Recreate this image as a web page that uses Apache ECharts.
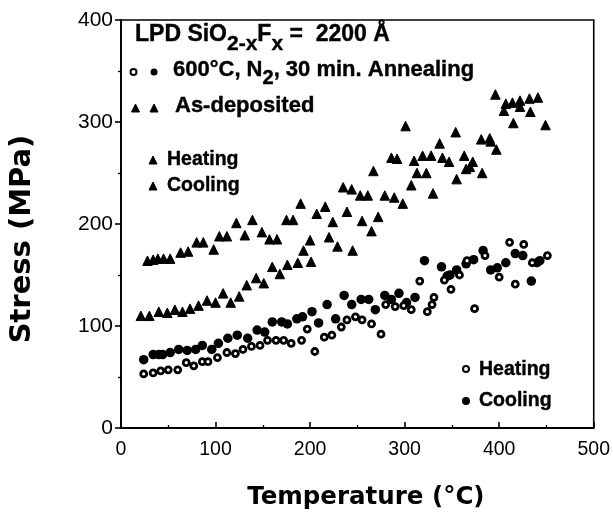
<!DOCTYPE html>
<html><head><meta charset="utf-8">
<script src="https://cdn.jsdelivr.net/npm/echarts@6/dist/echarts.min.js"></script>
<style>html,body{margin:0;padding:0;background:#fff}#c{width:613px;height:515px}</style>
</head><body><div id="c"></div>
<script>
// ---- data (Temperature °C, Stress MPa) ----
const xTicks = [0, 100, 200, 300, 400, 500];
const yTicks = [0, 100, 200, 300, 400];

// As-deposited, heating (lower triangle band)
const asDepHeating = [[21,110],[30,110],[40,114],[49,113],[57,116],[65,114],[73,117],[82,120],[91,125],[100,123],
  [108,132],[116,123],[125,129],[133,140],[143,147],[151,142],[160,158],[168,151],[176,160],[187,162],
  [193,174],[200,184],[201,163],[207,210],[220,187],[224,202],[229,178],[239,212],[245,174],[253,228],
  [255,203],[261,228],[265,193],[272,207],[279,228],[289,226],[298,220],[307,238],[313,250],[323,250],
  [330,230],[340,265],[347,261],[355,244],[363,267],[365,254],[369,256],[372,261],[382,250],[390,284],
  [391,281],[397,273],[449,297]];
// As-deposited, cooling (upper triangle band)
const asDepCooling = [[28,164],[34,165],[39,166],[45,166],[52,166],[63,172],[71,173],[80,182],[87,182],[98,175],
  [104,188],[112,188],[122,201],[131,189],[139,204],[149,192],[157,185],[165,185],[175,204],[182,204],
  [190,220],[216,217],[235,236],[244,234],[267,252],[286,265],[292,264],[301,296],[310,262],[319,267],
  [328,267],[337,279],[354,290],[381,283],[396,327],[405,311],[407,318],[414,319],[415,299],[422,321],
  [422,315],[432,323],[433,310],[441,324]];
// 600°C N2 annealed, heating (open circles)
const annHeating = [[24,53],[34,54],[42,56],[50,57],[60,57],[69,64],[77,61],[86,65],[92,65],[102,69],
  [112,74],[121,73],[129,77],[138,80],[147,81],[155,86],[164,86],[172,86],[180,83],[191,86],
  [197,97],[205,75],[215,89],[223,91],[233,99],[239,106],[248,109],[255,106],[265,102],[275,92],
  [280,121],[290,119],[299,120],[307,116],[316,144],[324,114],[329,121],[331,128],[342,145],[349,136],
  [358,150],[366,164],[374,117],[385,169],[400,148],[411,182],[417,141],[426,180],[435,162],[451,169]];
// 600°C N2 annealed, cooling (filled circles)
const annCooling = [[24,67],[34,72],[40,72],[44,72],[52,74],[61,77],[70,76],[79,77],[86,81],[96,77],
  [103,83],[113,88],[123,91],[134,88],[144,96],[152,94],[160,104],[170,104],[176,102],[186,107],
  [192,109],[202,114],[209,103],[218,121],[227,107],[236,130],[244,121],[254,126],[262,126],[269,116],
  [279,130],[286,126],[294,132],[302,123],[311,128],[321,164],[339,158],[345,149],[348,150],[355,155],
  [365,161],[373,165],[383,174],[391,155],[398,157],[407,162],[417,171],[425,169],[434,144],[440,162],
  [443,164]];

// ---- text helpers ----
const FONT = '"Liberation Sans", Arial, sans-serif';
const cv = document.createElement('canvas').getContext('2d');
function tw(t, size) { cv.font = 'bold ' + size + 'px ' + FONT; return cv.measureText(t).width; }
function richLine(pieces, x0, yc) {
  const out = []; let x = x0;
  pieces.forEach(p => {
    out.push({ type: 'text', silent: true,
      style: { text: p.t, x: x, y: yc + (p.dy || 0), font: 'bold ' + p.s + 'px ' + FONT,
               fill: '#000', stroke: '#000', lineWidth: 0.4, align: 'left', verticalAlign: 'middle' } });
    x += tw(p.t, p.s);
  });
  return out;
}
function tri(cx, cy, w, h) {
  return { type: 'polygon', silent: true,
    shape: { points: [[cx, cy - h / 2], [cx + w / 2, cy + h / 2], [cx - w / 2, cy + h / 2]] },
    style: { fill: '#000', stroke: '#000', lineWidth: 1, lineJoin: 'round' } };
}
function dot(cx, cy, r, open) {
  return { type: 'circle', silent: true, shape: { cx: cx, cy: cy, r: r },
    style: open ? { fill: '#fff', stroke: '#000', lineWidth: 2 } : { fill: '#000' } };
}

const graphics = [].concat(
  richLine([{t:'LPD SiO', s:23},{t:'2-x', s:21, dy:9},{t:'F', s:23},{t:'x', s:21, dy:9},{t:' =  2200 Å', s:23}], 135, 35),
  [dot(133.5, 72, 3, true), dot(154, 72, 3.5, false)],
  richLine([{t:'600°C, N', s:22},{t:'2', s:20, dy:8},{t:', 30 min. Annealing', s:22}], 173, 70),
  [tri(135.5, 108, 8, 8), tri(154, 108, 8, 8)],
  richLine([{t:'As-deposited', s:22}], 175, 106),
  [tri(153, 160, 8, 8), tri(153, 186, 8, 8)],
  richLine([{t:'Heating', s:19.5}], 167, 159.5),
  richLine([{t:'Cooling', s:19.5}], 167, 185.5),
  [dot(466, 369, 3, true), dot(466, 401, 4, false)],
  richLine([{t:'Heating', s:19.5}], 479, 370),
  richLine([{t:'Cooling', s:19.5}], 479, 400.5)
);

const chart = echarts.init(document.getElementById('c'), null, { renderer: 'canvas' });
const axisCommon = {
  type: 'value',
  splitLine: { show: false },
  axisLine: { show: true, lineStyle: { color: '#000', width: 1.8 } },
  minorTick: { show: true, splitNumber: 2, length: 3, lineStyle: { color: '#000', width: 1.3 } },
  minorSplitLine: { show: false }
};
chart.setOption({
  animation: false,
  backgroundColor: '#fff',
  grid: { left: 120, right: 16, top: 20, bottom: 83, show: true, borderColor: '#000', borderWidth: 1.6, backgroundColor: 'transparent' },
  xAxis: Object.assign({}, axisCommon, {
    min: xTicks[0], max: xTicks[xTicks.length - 1], interval: xTicks[1] - xTicks[0],
    axisTick: { show: true, inside: true, length: 6, lineStyle: { color: '#000', width: 1.6 } },
    axisLabel: { color: '#000', fontSize: 19.5, fontFamily: FONT, margin: 12 },
    name: 'Temperature (°C)', nameLocation: 'middle', nameGap: 57,
    nameTextStyle: { color: '#000', fontSize: 24.5, fontWeight: 'bold', fontFamily: '"DejaVu Sans"', padding: [0, 0, 0, 17] }
  }),
  yAxis: Object.assign({}, axisCommon, {
    min: yTicks[0], max: yTicks[yTicks.length - 1], interval: yTicks[1] - yTicks[0],
    axisTick: { show: true, inside: false, length: 6, lineStyle: { color: '#000', width: 1.6 } },
    axisLabel: { color: '#000', fontSize: 21, fontFamily: FONT, margin: 8 },
    name: 'Stress (MPa)', nameLocation: 'middle', nameGap: 84,
    nameTextStyle: { color: '#000', fontSize: 29, fontWeight: 'bold', fontFamily: '"DejaVu Sans"', padding: [0, 30, 0, 0] }
  }),
  series: [
    { name: 'As-deposited Heating', type: 'scatter', data: asDepHeating, symbol: 'triangle', symbolSize: 9.5,
      itemStyle: { color: '#000', borderColor: '#000', borderWidth: 1, opacity: 1 } },
    { name: 'As-deposited Cooling', type: 'scatter', data: asDepCooling, symbol: 'triangle', symbolSize: 9.5,
      itemStyle: { color: '#000', borderColor: '#000', borderWidth: 1, opacity: 1 } },
    { name: 'Annealed Cooling', type: 'scatter', data: annCooling, symbol: 'circle', symbolSize: 9.5,
      itemStyle: { color: '#000', opacity: 1 } },
    { name: 'Annealed Heating', type: 'scatter', data: annHeating, symbol: 'circle', symbolSize: 6,
      itemStyle: { color: '#fff', borderColor: '#000', borderWidth: 2.8, opacity: 1 } }
  ],
  graphic: graphics
});
</script></body></html>
